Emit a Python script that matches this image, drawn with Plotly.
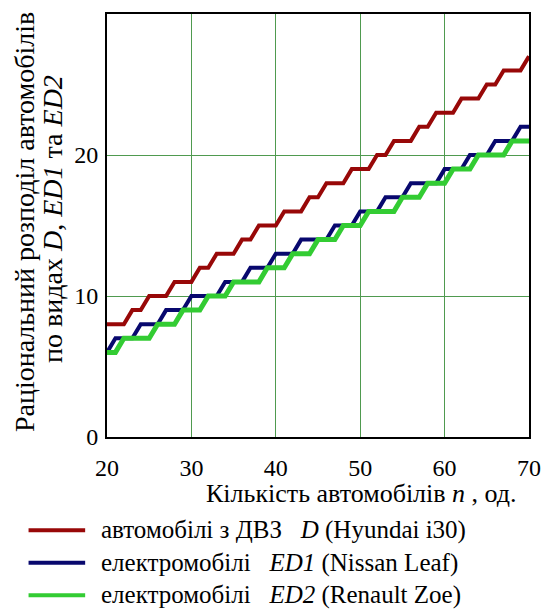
import plotly.graph_objects as go

# Number of cars n (x axis)
n_cars = [20, 21, 22, 23, 24, 25, 26, 27, 28, 29,
          30, 31, 32, 33, 34, 35, 36, 37, 38, 39,
          40, 41, 42, 43, 44, 45, 46, 47, 48, 49,
          50, 51, 52, 53, 54, 55, 56, 57, 58, 59,
          60, 61, 62, 63, 64, 65, 66, 67, 68, 69, 70]

# D - ICE cars (Hyundai i30)
d_ice = [8, 8, 8, 9, 9, 10, 10, 10, 11, 11,
         11, 12, 12, 13, 13, 13, 14, 14, 15, 15,
         15, 16, 16, 16, 17, 17, 18, 18, 18, 19,
         19, 19, 20, 20, 21, 21, 21, 22, 22, 23,
         23, 23, 24, 24, 24, 25, 25, 26, 26, 26, 27]

# ED1 - Nissan Leaf
ed1_leaf = [6, 7, 7, 7, 8, 8, 8, 9, 9, 9,
            10, 10, 10, 10, 11, 11, 11, 12, 12, 12,
            13, 13, 13, 14, 14, 14, 14, 15, 15, 15,
            16, 16, 16, 17, 17, 17, 18, 18, 18, 18,
            19, 19, 19, 20, 20, 20, 21, 21, 21, 22, 22]

# ED2 - Renault Zoe
ed2_zoe = [6, 6, 7, 7, 7, 7, 8, 8, 8, 9,
           9, 9, 10, 10, 10, 11, 11, 11, 11, 12,
           12, 12, 13, 13, 13, 14, 14, 14, 15, 15,
           15, 16, 16, 16, 16, 17, 17, 17, 18, 18,
           18, 19, 19, 19, 20, 20, 20, 20, 21, 21, 21]

x_ticks = [20, 30, 40, 50, 60, 70]
y_ticks = [0, 10, 20]

series_names = ["автомобілі з ДВЗ&nbsp;&nbsp;&nbsp;<i>D</i> (Hyundai i30)",
                "електромобілі&nbsp;&nbsp;&nbsp;<i>ED1</i> (Nissan Leaf)",
                "електромобілі&nbsp;&nbsp;&nbsp;<i>ED2</i> (Renault Zoe)"]
series_colors = ["#980808", "#08086e", "#33cc33"]
series_widths = [4, 4, 5]

FONT = "'Liberation Serif', 'Times New Roman', serif"

fig = go.Figure()
for name, ys, col, w in zip(series_names, [d_ice, ed1_leaf, ed2_zoe], series_colors, series_widths):
    fig.add_trace(go.Scatter(x=n_cars, y=ys, mode="lines", name=name,
                             line=dict(color=col, width=w), showlegend=False))

L, R, T, B = 107, 532, 13, 437
W, H = 553, 614
pw, ph = R - L, B - T

def px(x):
    return (x - L) / pw

def py(y):
    return (B - y) / ph

axis_common = dict(
    showgrid=True, gridcolor="#4f9a4f", gridwidth=1,
    showline=True, linecolor="black", linewidth=2, mirror=True,
    ticks="", zeroline=False,
    tickfont=dict(family=FONT, size=24, color="black"),
)

fig.update_layout(
    width=W, height=H,
    margin=dict(l=L, r=W - R, t=T, b=H - B, pad=0),
    plot_bgcolor="white", paper_bgcolor="white",
    font=dict(family=FONT, color="black"),
    xaxis=dict(range=[20, 70], tickvals=x_ticks, ticklabelstandoff=8, **axis_common),
    yaxis=dict(range=[0, 30], tickvals=y_ticks, ticklabelstandoff=2, **axis_common),
)

annotations = [
    dict(text="Кількість автомобілів <i>n</i> , од.", x=px(522), y=py(494),
         xanchor="right", yanchor="middle", font=dict(family=FONT, size=26)),
    dict(text="Раціональний розподіл автомобілів", x=px(24), y=py(222), textangle=-90,
         xanchor="center", yanchor="middle", font=dict(family=FONT, size=28)),
    dict(text="по видах <i>D</i>, <i>ED1</i> та <i>ED2</i>", x=px(52), y=py(218), textangle=-90,
         xanchor="center", yanchor="middle", font=dict(family=FONT, size=28)),
]

# legend: one multi-line text block (line height = 1.3 * font size)
LEG_FONT = 25
leg_center = 563
line_h = 1.3 * LEG_FONT
legend_rows = [leg_center - line_h, leg_center, leg_center + line_h]
shapes = []
for col, yrow in zip(series_colors, legend_rows):
    shapes.append(dict(type="line", xref="paper", yref="paper",
                       x0=px(28), x1=px(85), y0=py(yrow), y1=py(yrow),
                       line=dict(color=col, width=4)))
annotations.append(dict(text="<br>".join(series_names), x=px(99), y=py(leg_center),
                        xanchor="left", yanchor="middle", align="left",
                        font=dict(family=FONT, size=LEG_FONT)))
for a in annotations:
    a.update(xref="paper", yref="paper", showarrow=False)

fig.update_layout(annotations=annotations, shapes=shapes)
fig.write_html("out.html", config={"displayModeBar": False},
               post_script="document.body.style.margin='0';document.body.style.overflow='hidden';")
